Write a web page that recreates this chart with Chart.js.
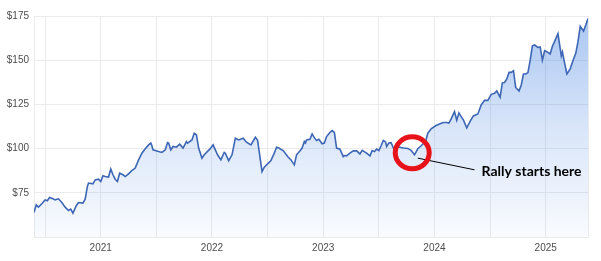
<!DOCTYPE html>
<html lang="en">
<head>
    <meta charset="UTF-8">
    <title>Price chart - Rally starts here</title>
    <script src="https://cdn.jsdelivr.net/npm/chart.js@4"></script>
    <style>
        body { margin: 0; background: #fff; }
    </style>
</head>
<body>
    <canvas id="priceChart" width="601" height="261"></canvas>

    <script>
        // dates as decimal years, one line per calendar year
        const dates = [
            2020.40, 2020.42, 2020.44, 2020.47, 2020.50, 2020.52, 2020.54, 2020.57, 2020.59, 2020.62, 2020.65, 2020.68, 2020.71, 2020.73, 2020.75, 2020.78, 2020.80, 2020.84, 2020.86, 2020.88, 2020.89, 2020.93, 2020.95, 2020.98,
            2021.00, 2021.02, 2021.04, 2021.07, 2021.09, 2021.11, 2021.13, 2021.15, 2021.17, 2021.20, 2021.22, 2021.25, 2021.28, 2021.31, 2021.34, 2021.37, 2021.40, 2021.43, 2021.45, 2021.46, 2021.47, 2021.52, 2021.55, 2021.58, 2021.60, 2021.61, 2021.63, 2021.65, 2021.68, 2021.71, 2021.74, 2021.77, 2021.78, 2021.82, 2021.84, 2021.86, 2021.88, 2021.91, 2021.93, 2021.98,
            2022.01, 2022.03, 2022.05, 2022.08, 2022.11, 2022.12, 2022.15, 2022.18, 2022.21, 2022.24, 2022.28, 2022.31, 2022.35, 2022.39, 2022.41, 2022.45, 2022.47, 2022.50, 2022.53, 2022.56, 2022.58, 2022.60, 2022.64, 2022.68, 2022.71, 2022.74, 2022.76, 2022.79, 2022.81, 2022.83, 2022.84, 2022.85, 2022.88, 2022.90, 2022.92, 2022.94, 2022.96, 2022.99,
            2023.01, 2023.03, 2023.06, 2023.08, 2023.10, 2023.12, 2023.15, 2023.18, 2023.19, 2023.21, 2023.24, 2023.27, 2023.30, 2023.33, 2023.35, 2023.39, 2023.42, 2023.44, 2023.46, 2023.48, 2023.50, 2023.52, 2023.54, 2023.56, 2023.57, 2023.59, 2023.61, 2023.63, 2023.65, 2023.67, 2023.72, 2023.76, 2023.79, 2023.82, 2023.85, 2023.88, 2023.92, 2023.94, 2023.97,
            2024.01, 2024.05, 2024.08, 2024.11, 2024.13, 2024.15, 2024.18, 2024.20, 2024.22, 2024.25, 2024.26, 2024.29, 2024.32, 2024.35, 2024.39, 2024.42, 2024.45, 2024.48, 2024.51, 2024.54, 2024.56, 2024.59, 2024.61, 2024.63, 2024.65, 2024.67, 2024.69, 2024.71, 2024.73, 2024.76, 2024.78, 2024.80, 2024.82, 2024.84, 2024.86, 2024.88, 2024.90, 2024.93, 2024.95, 2024.97, 2024.99,
            2025.01, 2025.04, 2025.06, 2025.09, 2025.11, 2025.14, 2025.15, 2025.17, 2025.19, 2025.22, 2025.25, 2025.27, 2025.29, 2025.31, 2025.34, 2025.36, 2025.38
        ];

        // share price in $
        const prices = [
            63.9, 68.2, 66.9, 68.8, 71.0, 70.5, 72.3, 71.6, 71.0, 71.6, 69.5, 66.9, 65.0, 65.8, 63.5, 67.7, 69.5, 69.2, 71.4, 78.6, 80.5, 80.1, 82.3, 82.7,
            81.4, 84.6, 84.2, 83.9, 88.4, 85.2, 82.7, 81.4, 86.1, 85.2, 84.2, 85.7, 87.6, 89.0, 93.6, 97.4, 99.9, 102.1, 103.1, 101.6, 99.3, 98.3, 97.8, 99.3, 103.4, 103.1, 99.3, 101.2, 100.8, 102.5, 100.3, 104.0, 103.1, 104.9, 108.7, 107.8, 100.3, 94.6, 96.5, 99.7,
            102.1, 99.3, 96.5, 93.6, 97.8, 97.4, 93.2, 96.5, 105.9, 104.9, 105.9, 103.6, 102.1, 106.4, 104.7, 87.0, 89.5, 91.4, 93.2, 97.4, 100.8, 100.3, 98.9, 95.5, 93.6, 90.8, 96.5, 98.7, 100.3, 104.0, 103.1, 104.9, 105.3, 108.3, 106.2, 104.6, 105.3, 102.7,
            103.1, 106.8, 109.1, 110.2, 109.1, 100.3, 99.7, 95.5, 96.1, 95.9, 97.4, 98.7, 98.7, 97.0, 99.0, 97.4, 95.9, 98.9, 98.3, 99.7, 98.9, 101.6, 104.6, 103.8, 101.2, 103.2, 103.4, 100.4, 98.3, 101.0, 100.3, 100.1, 99.0, 96.5, 99.9, 101.6, 104.0, 108.7, 111.2,
            112.9, 114.0, 114.8, 114.8, 114.4, 116.8, 120.9, 116.0, 120.2, 117.1, 116.2, 111.7, 115.4, 118.5, 119.6, 124.7, 127.3, 127.3, 130.7, 131.3, 132.6, 129.1, 137.2, 137.4, 139.4, 143.1, 143.1, 144.1, 134.6, 132.6, 136.0, 142.2, 142.2, 143.0, 149.9, 158.1, 158.6, 157.2, 157.5, 150.0, 155.4,
            154.8, 153.5, 157.9, 162.1, 165.0, 152.4, 154.7, 148.3, 142.2, 145.1, 150.7, 153.9, 160.5, 169.1, 166.5, 169.9, 173.6
        ];

        // grid every half year, labels on January only
        const xTicks = [2020.40, 2020.5, 2021, 2021.5, 2022, 2022.5, 2023, 2023.5, 2024, 2024.5, 2025, 2025.38];
        const yTicks = [50, 75, 100, 125, 150, 175];

        // hand-drawn callout
        const rallyPoint = { x: 2023.80, y: 97.6 };
        const calloutFrom = { x: 2023.85, y: 94.6 };
        const calloutTo = { x: 2024.36, y: 88.0 };
        const calloutText = 'Rally starts here';

        const calloutPlugin = {
            id: 'callout',
            afterDatasetsDraw(chart) {
                const { ctx, scales: { x, y } } = chart;
                ctx.save();
                // thin black pointer line
                ctx.strokeStyle = '#000';
                ctx.lineWidth = 1;
                ctx.beginPath();
                ctx.moveTo(x.getPixelForValue(calloutFrom.x), y.getPixelForValue(calloutFrom.y));
                ctx.lineTo(x.getPixelForValue(calloutTo.x), y.getPixelForValue(calloutTo.y));
                ctx.stroke();
                // red ring
                ctx.strokeStyle = '#e8121b';
                ctx.lineWidth = 5;
                ctx.beginPath();
                ctx.ellipse(x.getPixelForValue(rallyPoint.x), y.getPixelForValue(rallyPoint.y), 17, 16, 0, 0, Math.PI * 2);
                ctx.stroke();
                // label
                ctx.fillStyle = '#000';
                ctx.font = 'bold 14px Lato, "Open Sans", sans-serif';
                ctx.textBaseline = 'middle';
                ctx.fillText(calloutText, x.getPixelForValue(calloutTo.x) + 7, y.getPixelForValue(calloutTo.y) + 2);
                ctx.restore();
            }
        };

        const tickFont = { family: '"Liberation Sans", Arial, sans-serif', size: 10 };
        const gridColor = '#ebebeb';

        const ctx = document.getElementById('priceChart').getContext('2d');
        const priceChart = new Chart(ctx, {
            type: 'line',
            data: {
                datasets: [{
                    label: 'Price',
                    data: dates.map((d, i) => ({ x: d, y: prices[i] })),
                    borderColor: '#3d66b5',
                    borderWidth: 1.6,
                    pointRadius: 0,
                    tension: 0,
                    fill: 'start',
                    backgroundColor: (context) => {
                        const area = context.chart.chartArea;
                        if (!area) return 'rgba(60,125,225,0.2)';
                        const g = context.chart.ctx.createLinearGradient(0, area.top, 0, area.bottom);
                        g.addColorStop(0, 'rgba(60,125,225,0.44)');
                        g.addColorStop(0.5, 'rgba(60,125,225,0.2)');
                        g.addColorStop(1, 'rgba(60,125,225,0.03)');
                        return g;
                    }
                }]
            },
            options: {
                responsive: false,
                animation: false,
                layout: { padding: { top: 16, right: 13, left: 0, bottom: 0 } },
                plugins: {
                    legend: { display: false },
                    tooltip: { enabled: false }
                },
                scales: {
                    x: {
                        type: 'linear',
                        min: xTicks[0],
                        max: xTicks[xTicks.length - 1],
                        afterBuildTicks: (scale) => { scale.ticks = xTicks.map(v => ({ value: v })); },
                        afterFit: (scale) => { scale.height = 24; },
                        grid: { color: gridColor, drawTicks: false },
                        border: { color: gridColor },
                        ticks: {
                            autoSkip: false,
                            maxRotation: 0,
                            padding: 5,
                            color: '#4d4d4d',
                            font: tickFont,
                            callback: (v) => Number.isInteger(v) ? String(v) : ''
                        }
                    },
                    y: {
                        min: yTicks[0],
                        max: yTicks[yTicks.length - 1],
                        afterBuildTicks: (scale) => { scale.ticks = yTicks.map(v => ({ value: v })); },
                        afterFit: (scale) => { scale.width = 34; },
                        grid: { color: gridColor, drawTicks: false },
                        border: { color: gridColor },
                        ticks: {
                            padding: 5,
                            color: '#4d4d4d',
                            font: tickFont,
                            callback: (v) => v === yTicks[0] ? '' : '$' + v
                        }
                    }
                }
            },
            plugins: [calloutPlugin]
        });
    </script>
</body>
</html>
